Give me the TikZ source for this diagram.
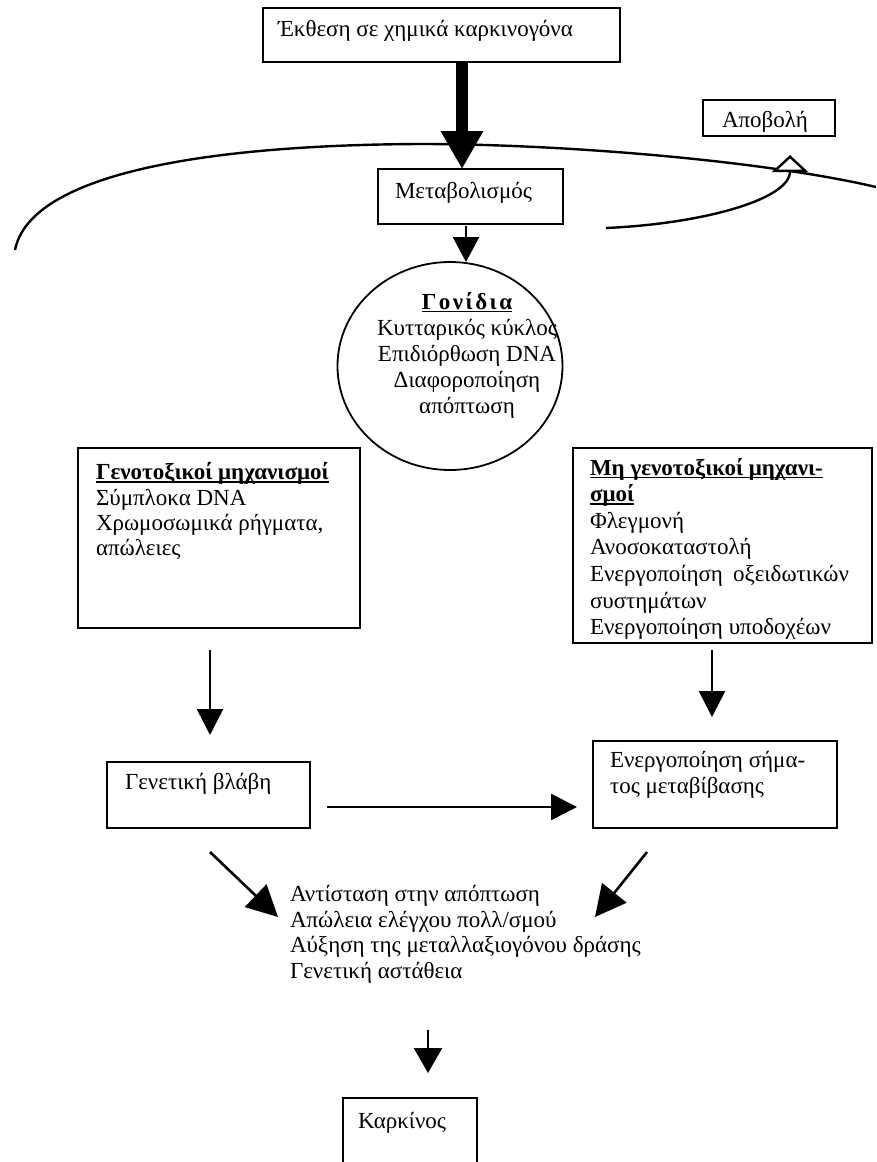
\documentclass[tikz,border=0pt]{standalone}
\usepackage{fontspec}
\setmainfont{Liberation Serif}
\usetikzlibrary{arrows.meta,shapes.geometric,calc}
% underline drawn through the descenders, word-processor style
\newcommand\undl[1]{\setbox0\hbox{#1}\rlap{\rule[-3pt]{\wd0}{1.5pt}}\box0}

\begin{document}
\begin{tikzpicture}[x=1pt,y=-1pt,
  every node/.style={inner sep=0pt,outer sep=0pt},
  frame/.style={draw,line width=1.8pt,rectangle,anchor=north west},
  lbl/.style={anchor=base west,font=\fontsize{23}{26}\selectfont},
  para/.style={anchor=north west,align=left,font=\fontsize{23}{26}\selectfont},
  flow/.style={line width=2.6pt,-{Triangle[length=26pt,width=26pt]}},
  diag/.style={line width=2.6pt,-{Triangle[length=31pt,width=31pt]}},
  curve/.style={line width=2.4pt}]
\useasboundingbox (0,0) rectangle (876,1162);
\clip (0,0) rectangle (876,1162);

% cell membrane
\draw[curve] (15,250) .. controls (30,175) and (200,145) .. (420,144)
  .. controls (560,144) and (760,160) .. (876,187);

% boxes
\node[frame,minimum width=357pt,minimum height=54pt] (expo) at (263,8) {};
\node[lbl] (expoT) at (278,36) {Έκθεση σε χημικά καρκινογόνα};

\node[frame,minimum width=132pt,minimum height=36pt] (efflux) at (703,100) {};
\node[lbl] (effluxT) at (722,127) {Αποβολή};

\node[frame,minimum width=185pt,minimum height=55pt] (meta) at (378,169) {};
\node[lbl] (metaT) at (395,198) {Μεταβολισμός};

\node[draw,ellipse,line width=1.8pt,minimum width=225pt,minimum height=208pt] (genes) at (450,366) {};
\node[anchor=north,align=center,font=\fontsize{23}{26}\selectfont] (genesT) at (467,291)
  {\strut\undl{\textbf{Γ\kern2.5pt ο\kern2.5pt ν\kern2.5pt ί\kern2.5pt δ\kern2.5pt ι\kern2.5pt α}}\\
   Κυτταρικός κύκλος\\Επιδιόρθωση DNA\\Διαφοροποίηση\\απόπτωση};

\node[frame,minimum width=282pt,minimum height=180pt] (geno) at (78,448) {};
\node[para,font=\fontsize{23}{25.3}\selectfont] (genoT) at (96,462)
  {\strut\undl{\textbf{Γενοτοξικοί μηχανισμοί}}\\Σύμπλοκα DNA\\Χρωμοσωμικά ρήγματα,\\απώλειες};

\node[frame,minimum width=299pt,minimum height=195pt] (nongeno) at (573,448) {};
\node[para,font=\fontsize{23}{26.6}\selectfont] (nongenoT) at (590,456.5)
  {\strut\undl{\textbf{Μη γενοτοξικοί μηχανι-}}\\\undl{\textbf{σμοί}}\\Φλεγμονή\\Ανοσοκαταστολή\\
   \makebox[259pt][s]{Ενεργοποίηση οξειδωτικών}\\συστημάτων\\Ενεργοποίηση υποδοχέων};

\node[frame,minimum width=203pt,minimum height=66pt] (damage) at (107,762) {};
\node[lbl] (damageT) at (125,789) {Γενετική βλάβη};

\node[frame,minimum width=244pt,minimum height=87pt] (signal) at (593,741) {};
\node[para] (signalT) at (610,749) {\strut Ενεργοποίηση σήμα-\\τος μεταβίβασης};

\node[para,font=\fontsize{23}{25.5}\selectfont] (outc) at (290,884)
  {\strut Αντίσταση στην απόπτωση\\Απώλεια ελέγχου πολλ/σμού\\Αύξηση της μεταλλαξιογόνου δράσης\\Γενετική αστάθεια};

\node[frame,minimum width=134pt,minimum height=80pt] (cancer) at (343,1098) {};
\node[lbl] (cancerT) at (358,1128) {Καρκίνος};

% arrows
\coordinate (ax) at (462,0);
\draw[line width=12pt,-{Triangle[length=38pt,width=40pt]}] (ax |- expo.south) -- (ax |- meta.north);
\coordinate (bx) at (466,0);
\draw[flow,shorten <=2pt,-{Triangle[length=25pt,width=26pt]}] (bx |- meta.south) -- (bx |- genes.north);

\draw[curve,-{Triangle[length=17pt,width=36pt,fill=white]}] (606,228) .. controls (700,224) and (790,200) .. (790,155);

\coordinate (lx) at (210,0);
\draw[flow,shorten <=22pt,shorten >=27pt] (lx |- geno.south) -- (lx |- damage.north);
\coordinate (rx) at (712,0);
\draw[flow,shorten <=7pt,shorten >=24pt] (rx |- nongeno.south) -- (rx |- signal.north);
\coordinate (hy) at (0,807);
\draw[flow,shorten <=17pt,shorten >=16pt] (damage.east |- hy) -- (signal.west |- hy);

\coordinate (d1s) at (210,852);
\coordinate (d1e) at (278,917);
\draw[diag] (d1s) -- (d1e);
\coordinate (d2s) at (647,852);
\coordinate (d2e) at (595,917);
\draw[diag] (d2s) -- (d2e);

\coordinate (cs) at (428,1030);
\draw[flow,-{Triangle[length=25pt,width=28pt]},shorten >=25pt] (cs) -- (cancer.north -| cs);
\end{tikzpicture}
\end{document}
